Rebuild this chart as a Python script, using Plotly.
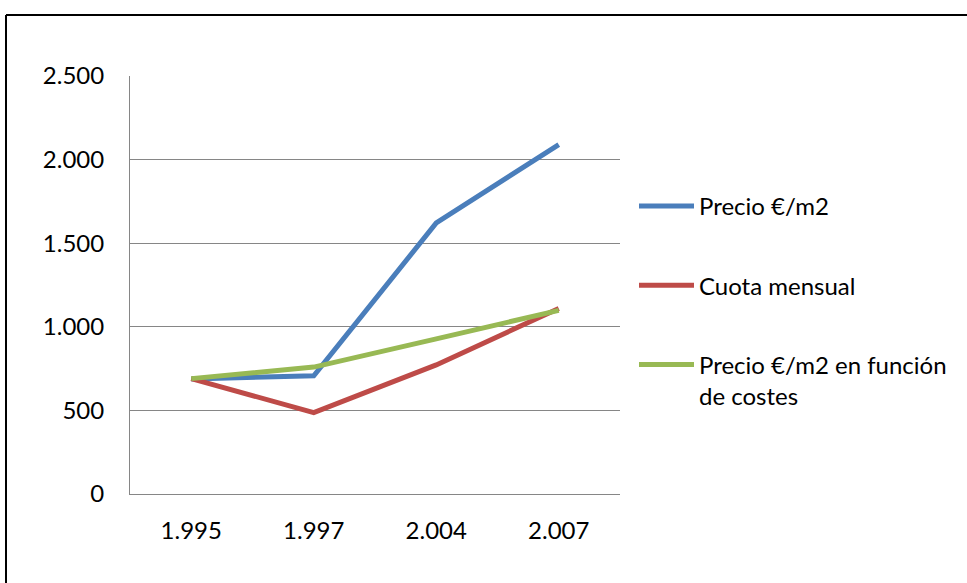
import plotly.graph_objects as go

years = ["1.995", "1.997", "2.004", "2.007"]
precio_m2 = [688, 707, 1621, 2090]
cuota_mensual = [690, 487, 772, 1110]
precio_costes = [690, 759, 928, 1098]

series = [
    ("Precio €/m2", precio_m2, "#4A7EBB"),
    ("Cuota mensual", cuota_mensual, "#BE4B48"),
    ("Precio €/m2 en función<br>de costes", precio_costes, "#98B954"),
]

W, H = 967, 583
L, R, T, B = 130, 347, 76, 89
pw, ph = W - L - R, H - T - B

fig = go.Figure()
for i, (name, vals, color) in enumerate(series):
    fig.add_trace(go.Scatter(
        x=years, y=vals, name=name, mode="lines",
        line=dict(color=color, width=5),
        legendgroup=f"g{i}",
    ))

def px_to_paper_x(px):
    return (px - L) / pw

def px_to_paper_y(py):
    return (H - B - py) / ph

# outer chart frame (top and left edges visible)
frame = dict(color="black", width=2)
fig.add_shape(type="line", xref="paper", yref="paper",
              x0=px_to_paper_x(6), x1=px_to_paper_x(990),
              y0=px_to_paper_y(15), y1=px_to_paper_y(15), line=frame)
fig.add_shape(type="line", xref="paper", yref="paper",
              x0=px_to_paper_x(6), x1=px_to_paper_x(6),
              y0=px_to_paper_y(15), y1=px_to_paper_y(600), line=frame)

fig.update_layout(
    width=W, height=H,
    margin=dict(l=L, r=R, t=T, b=B),
    paper_bgcolor="white", plot_bgcolor="white",
    separators=",.",
    font=dict(family="Lato, Open Sans, sans-serif", size=24, color="black"),
    showlegend=True,
    legend=dict(
        x=px_to_paper_x(634), y=px_to_paper_y(184), xanchor="left", yanchor="top",
        font=dict(size=24), tracegroupgap=45, traceorder="grouped",
        itemwidth=55, valign="top", bgcolor="rgba(0,0,0,0)",
    ),
    xaxis=dict(
        type="category", range=[-0.5, 3.5], showgrid=False, showline=True,
        linecolor="#868686", linewidth=1, ticks="", ticklabelstandoff=15,
    ),
    yaxis=dict(
        range=[0, 2500], tickvals=[0, 500, 1000, 1500, 2000, 2500],
        tickformat=",d", showgrid=True, gridcolor="#868686", gridwidth=1,
        showline=True, linecolor="#868686", linewidth=1, zeroline=False,
        ticks="", ticklabelstandoff=20,
    ),
)

fig.write_html("out.html")
